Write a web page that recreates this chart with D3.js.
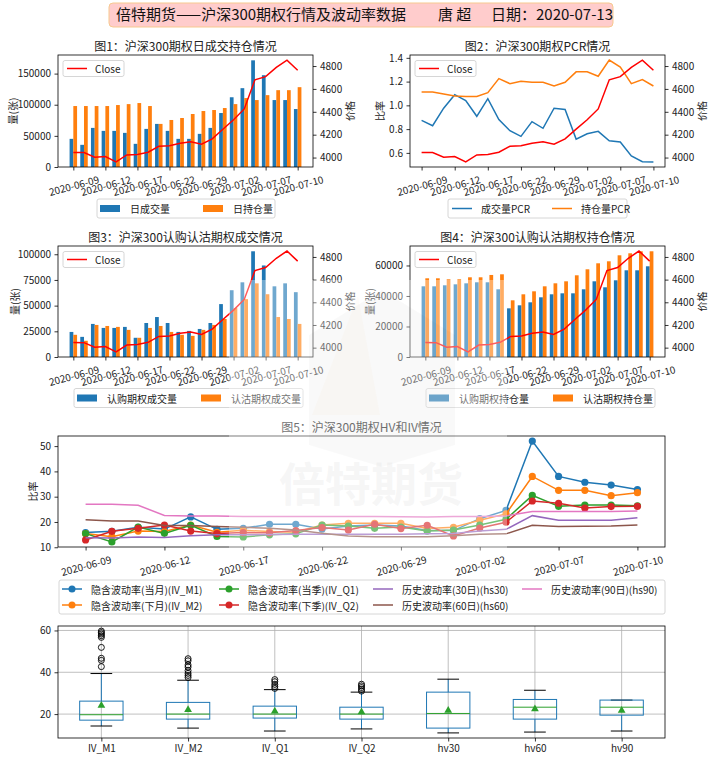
<!DOCTYPE html>
<html>
<head>
<meta charset="utf-8">
<script src="https://cdn.jsdelivr.net/npm/d3@7"></script>
<style>
body { margin: 0; background: #fff; }
</style>
</head>
<body>
<script>
const W = 712, H = 761;
const FONT = '"Noto Sans CJK SC", "Noto Sans", sans-serif';

const dates = ["2020-06-09","2020-06-10","2020-06-11","2020-06-12","2020-06-15","2020-06-16","2020-06-17","2020-06-18","2020-06-19","2020-06-22","2020-06-23","2020-06-24","2020-06-29","2020-06-30","2020-07-01","2020-07-02","2020-07-03","2020-07-06","2020-07-07","2020-07-08","2020-07-09","2020-07-10"];
const tickIdx = [0, 3, 6, 9, 12, 15, 18, 21];
const close = [4045,4044,4003,4009,3962,4023,4027,4047,4099,4103,4126,4138,4116,4164,4248,4331,4425,4680,4707,4788,4852,4763];

// fig 1
const volDay = [45200,35600,62800,58000,58000,54800,37200,61200,69200,58000,45200,45200,53200,62800,86700,112000,126600,171300,147400,107500,107500,93100];
const oiDay = [97900,97900,97900,97900,99500,101000,102700,97900,69200,75500,78700,85100,89900,91500,94700,101000,110700,107500,115400,123400,123400,128200];
// fig 2
const pcrVol = [0.874,0.829,0.976,1.09,1.041,0.908,1.056,0.88,0.787,0.739,0.863,0.807,0.976,0.965,0.716,0.761,0.781,0.702,0.691,0.575,0.526,0.524];
const pcrOi = [1.112,1.112,1.095,1.078,1.075,1.075,1.107,1.225,1.183,1.203,1.194,1.194,1.163,1.194,1.282,1.282,1.245,1.381,1.322,1.183,1.217,1.163];
// fig 3
const callVol = [24400,19600,32200,28300,28300,29300,18700,33100,38900,33100,24400,25400,27300,33100,51500,65000,72700,102900,89100,68800,71700,63100];
const putVol = [21600,15800,31200,30200,29300,26400,18700,28300,30200,24400,21600,20600,26400,31200,37000,47600,56300,71700,61100,38900,37000,32200];
// fig 4
const callOi = [46340,46340,47000,47650,48300,48970,48970,44380,31900,33880,35850,39130,41100,41750,41750,44380,49620,45690,50280,56840,56840,59460];
const putOi = [51590,51590,50930,50930,52250,52250,53780,54210,37160,41100,43060,46340,48310,49620,53560,57490,61430,62740,66670,67990,69300,69300];
// fig 5
const ivM1 = [15.8,16.3,17.9,17.2,22.0,17.1,17.5,19.1,19.1,17.2,18.4,18.8,18.4,16.6,16.6,21.3,24.6,52.0,38.0,35.7,34.6,32.8];
const ivM2 = [15.4,14.2,16.4,16.2,18.8,15.9,16.7,16.2,15.9,18.8,19.5,19.5,19.5,17.4,17.9,20.7,23.2,38.0,32.5,32.5,30.4,31.6];
const ivQ1 = [15.4,12.1,18.0,15.5,18.7,14.3,14.1,14.9,15.3,18.8,18.4,17.5,18.0,16.4,16.8,18.8,21.1,30.5,26.2,26.7,26.7,26.4];
const ivQ2 = [12.9,16.3,17.5,18.8,16.4,15.4,15.8,15.7,16.6,17.8,16.8,19.1,17.4,18.7,14.5,17.6,19.9,28.3,27.4,25.5,26.1,26.2];
const hs30 = [13.8,13.7,14.1,13.9,14.6,14.9,14.9,15.0,15.1,15.1,15.1,15.1,15.1,15.3,15.4,16.4,17.1,22.5,20.7,20.7,20.7,21.7];
const hs60 = [20.9,20.4,20.4,18.6,18.6,18.2,17.9,17.5,16.8,15.5,14.5,14.2,14.2,14.2,14.6,15.1,15.3,18.7,18.2,18.3,18.4,18.8];
const hs90 = [27.0,27.0,26.6,22.6,22.4,22.4,22.2,22.2,22.2,22.2,22.2,22.2,22.1,22.0,22.2,22.2,22.4,24.1,24.1,24.1,24.1,24.3];
// box plot
const boxNames = ["IV_M1","IV_M2","IV_Q1","IV_Q2","hv30","hv60","hv90"];
const boxLo = [14.3,13.3,11.9,12.9,11.0,11.4,11.9];
const boxQ1 = [17.1,17.6,18.1,17.6,13.3,17.6,19.5];
const boxMed = [19.7,20.0,20.0,20.0,20.3,23.3,23.3];
const boxQ3 = [26.2,25.6,23.8,23.3,30.5,27.0,26.7];
const boxHi = [39.4,36.2,31.7,30.5,36.7,31.4,26.7];
const boxMean = [24.1,22.1,21.4,21.0,21.7,22.4,21.7];
const boxOut = [
  [42.7,45.7,46.7,51.9,56.7,57.5,58.3,59.0,59.7],
  [37.5,38.5,39.5,40.8,42.5,43.5,45.5,46.5],
  [32.3,33.2,34.2,35.5,36.5],
  [31.0,31.8,32.7,33.5,34.3],
  [], [], []
];

const BLUE = "#1f77b4", ORANGE = "#ff7f0e", GREEN = "#2ca02c", RED = "#d62728",
      PURPLE = "#9467bd", BROWN = "#8c564b", PINK = "#e377c2";

const p1 = {x0: 58, x1: 313, y0: 55, y1: 167};
const p2 = {x0: 410, x1: 665, y0: 55, y1: 167};
const p3 = {x0: 58, x1: 313, y0: 246, y1: 357};
const p4 = {x0: 410, x1: 665, y0: 246, y1: 357};
const p5 = {x0: 58, x1: 665, y0: 436, y1: 547};
const p6 = {x0: 58, x1: 665, y0: 626, y1: 738};

const svg = d3.select("body").append("svg")
    .attr("width", W)
    .attr("height", H)
    .style("font-family", FONT);

const pad = (vals, zero) => {
  const [a, b] = d3.extent(vals);
  return zero ? [0, b * 1.05] : [a - (b - a) * 0.05, b + (b - a) * 0.05];
};

function frame(p) {
  svg.append("rect")
      .attr("x", p.x0).attr("y", p.y0)
      .attr("width", p.x1 - p.x0).attr("height", p.y1 - p.y0)
      .attr("fill", "none").attr("stroke", "#000").attr("stroke-width", 0.8);
}

function styleAxis(a) {
  a.select(".domain").remove();
  a.selectAll(".tick line").attr("stroke", "#000").attr("stroke-width", 0.8);
  a.selectAll(".tick text").attr("fill", "#222").attr("font-size", 10).attr("font-family", FONT);
}

function text(x, y, t, size, opts = {}) {
  const el = svg.append("text")
      .attr("x", x).attr("y", y)
      .attr("font-size", size)
      .attr("fill", opts.fill || "#222")
      .attr("text-anchor", opts.anchor || "start")
      .attr("dominant-baseline", opts.baseline || "auto")
      .text(t);
  if (opts.rotate) el.attr("transform", `rotate(${opts.rotate},${x},${y})`);
  return el;
}

function title(p, t) {
  text((p.x0 + p.x1) / 2, p.y0 - 4.5, t, 12, {anchor: "middle"});
}

function leftAxis(p, y, ticks, fmt, label, labelX) {
  const a = svg.append("g").attr("transform", `translate(${p.x0},0)`)
      .call(d3.axisLeft(y).tickValues(ticks).tickFormat(fmt).tickSize(3.5).tickPadding(3.5));
  styleAxis(a);
  if (label) text(labelX, (p.y0 + p.y1) / 2, label, 10, {anchor: "middle", baseline: "central", rotate: -90});
}

function dateAxis(p, x) {
  const a = svg.append("g").attr("transform", `translate(0,${p.y1})`)
      .call(d3.axisBottom(x).tickValues(tickIdx).tickFormat(i => dates[i]).tickSize(3.5));
  styleAxis(a);
  a.selectAll(".tick text")
      .attr("y", null).attr("dy", null)
      .attr("dominant-baseline", "central")
      .attr("transform", "translate(0,18) rotate(-15)");
}

function legendBox(x, y, w, h) {
  svg.append("rect")
      .attr("x", x).attr("y", y).attr("width", w).attr("height", h).attr("rx", 2)
      .attr("fill", "#fff").attr("fill-opacity", 0.8)
      .attr("stroke", "#ccc").attr("stroke-width", 0.8);
}

function legendPatch(x, y, color, t) {
  svg.append("rect").attr("x", x).attr("y", y - 3.5).attr("width", 20).attr("height", 7).attr("fill", color);
  text(x + 30, y, t, 10, {baseline: "central"});
}

function legendLine(x, y, color, t, marker) {
  svg.append("line").attr("x1", x).attr("x2", x + 20).attr("y1", y).attr("y2", y)
      .attr("stroke", color).attr("stroke-width", 1.5);
  if (marker) svg.append("circle").attr("cx", x + 10).attr("cy", y).attr("r", 3.5).attr("fill", color);
  text(x + 29, y, t, 10, {baseline: "central"});
}

function closeAxis(p, x) {
  const y = d3.scaleLinear().domain(pad(close)).range([p.y1, p.y0]);
  svg.append("path")
      .datum(close)
      .attr("d", d3.line().x((d, i) => x(i)).y(d => y(d)))
      .attr("fill", "none").attr("stroke", "red").attr("stroke-width", 1.5);
  const a = svg.append("g").attr("transform", `translate(${p.x1},0)`)
      .call(d3.axisRight(y).tickValues([4000, 4200, 4400, 4600, 4800]).tickFormat(d3.format("d")).tickSize(3.5).tickPadding(3.5));
  styleAxis(a);
  text(p.x1 + 36, (p.y0 + p.y1) / 2, "价格", 10, {anchor: "middle", baseline: "central", rotate: -90});
  const lx = p.x0 + 5, ly = p.y0 + 5.5;
  legendBox(lx, ly, 61, 16);
  legendLine(lx + 4, ly + 8, "red", "");
  text(lx + 32, ly + 8, "Close", 10, {baseline: "central"});
}

function barPanel(p, t, left, right, yTicks, labelX) {
  const x = d3.scaleLinear().domain([-1.435, 22.435]).range([p.x0, p.x1]);
  const y = d3.scaleLinear().domain(pad(left.concat(right), true)).range([p.y1, p.y0]);
  const bw = x(0.35) - x(0);
  [[left, -0.35, BLUE], [right, 0, ORANGE]].forEach(([vals, off, color]) => {
    svg.append("g").selectAll("rect")
        .data(vals)
        .join("rect")
        .attr("x", (d, i) => x(i + off))
        .attr("width", bw)
        .attr("y", d => y(d))
        .attr("height", d => y(0) - y(d))
        .attr("fill", color);
  });
  frame(p);
  title(p, t);
  leftAxis(p, y, yTicks, d3.format("d"), "量(张)", labelX);
  dateAxis(p, x);
  closeAxis(p, x);
}

// header
svg.append("rect").attr("x", 109).attr("y", 3).attr("width", 504).attr("height", 24).attr("rx", 4)
    .attr("fill", "#ffcccc").attr("stroke", "#f7c98f").attr("stroke-width", 1);
text(116, 20, "倍特期货——沪深300期权行情及波动率数据", 15, {fill: "#111"});
text(438, 20, "唐 超", 15, {fill: "#111"});
text(491, 20, "日期：2020-07-13", 15, {fill: "#111"});

// fig 1
barPanel(p1, "图1：沪深300期权日成交持仓情况", volDay, oiDay, [0, 50000, 100000, 150000], 12);
legendBox(97, 199, 178, 19);
legendPatch(100, 208.5, BLUE, "日成交量");
legendPatch(203, 208.5, ORANGE, "日持仓量");

// fig 2
{
  const x = d3.scaleLinear().domain([-1.05, 22.05]).range([p2.x0, p2.x1]);
  const y = d3.scaleLinear().domain(pad(pcrVol.concat(pcrOi))).range([p2.y1, p2.y0]);
  [[pcrVol, BLUE], [pcrOi, ORANGE]].forEach(([vals, color]) => {
    svg.append("path")
        .datum(vals)
        .attr("d", d3.line().x((d, i) => x(i)).y(d => y(d)))
        .attr("fill", "none").attr("stroke", color).attr("stroke-width", 1.5);
  });
  frame(p2);
  title(p2, "图2：沪深300期权PCR情况");
  leftAxis(p2, y, [0.6, 0.8, 1.0, 1.2, 1.4], d3.format(".1f"), "比率", 379);
  dateAxis(p2, x);
  closeAxis(p2, x);
  legendBox(448, 199, 179, 19);
  legendLine(452, 208.5, BLUE, "成交量PCR");
  legendLine(552, 208.5, ORANGE, "持仓量PCR");
}

// fig 3
barPanel(p3, "图3：沪深300认购认沽期权成交情况", callVol, putVol, [0, 25000, 50000, 75000, 100000], 14);
legendBox(74, 388.5, 229, 19);
legendPatch(77, 398, BLUE, "认购期权成交量");
legendPatch(201, 398, ORANGE, "认沽期权成交量");

// fig 4
barPanel(p4, "图4：沪深300认购认沽期权持仓情况", callOi, putOi, [0, 20000, 40000, 60000], 369);
legendBox(426, 388.5, 229, 19);
legendPatch(429, 398, BLUE, "认购期权持仓量");
legendPatch(553, 398, ORANGE, "认沽期权持仓量");

// fig 5
const volSeries = [
  {name: "隐含波动率(当月)(IV_M1)", vals: ivM1, color: BLUE, marker: true},
  {name: "隐含波动率(下月)(IV_M2)", vals: ivM2, color: ORANGE, marker: true},
  {name: "隐含波动率(当季)(IV_Q1)", vals: ivQ1, color: GREEN, marker: true},
  {name: "隐含波动率(下季)(IV_Q2)", vals: ivQ2, color: RED, marker: true},
  {name: "历史波动率(30日)(hs30)", vals: hs30, color: PURPLE, marker: false},
  {name: "历史波动率(60日)(hs60)", vals: hs60, color: BROWN, marker: false},
  {name: "历史波动率(90日)(hs90)", vals: hs90, color: PINK, marker: false}
];
{
  const x = d3.scaleLinear().domain([-1.05, 22.05]).range([p5.x0, p5.x1]);
  const y = d3.scaleLinear().domain(pad(volSeries.flatMap(s => s.vals))).range([p5.y1, p5.y0]);
  volSeries.forEach(s => {
    svg.append("path")
        .datum(s.vals)
        .attr("d", d3.line().x((d, i) => x(i)).y(d => y(d)))
        .attr("fill", "none").attr("stroke", s.color).attr("stroke-width", 1.5);
    if (s.marker) {
      svg.append("g").selectAll("circle")
          .data(s.vals)
          .join("circle")
          .attr("cx", (d, i) => x(i))
          .attr("cy", d => y(d))
          .attr("r", 3.6)
          .attr("fill", s.color);
    }
  });
  frame(p5);
  title(p5, "图5：沪深300期权HV和IV情况");
  leftAxis(p5, y, [10, 20, 30, 40, 50], d3.format("d"), "比率", 32);
  dateAxis(p5, x);

  legendBox(59, 580, 606, 34);
  const colX = [62, 219, 373, 522], rowY = [589, 605];
  volSeries.forEach((s, k) => {
    legendLine(colX[Math.floor(k / 2)], rowY[k % 2], s.color, s.name, s.marker);
  });
}

// box plot
{
  const x = d3.scaleLinear().domain([0.5, 7.5]).range([p6.x0, p6.x1]);
  const y = d3.scaleLinear().domain(pad(boxLo.concat(boxHi, boxOut.flat()))).range([p6.y1, p6.y0]);
  const idx = d3.range(boxNames.length);
  const hw = x(0.25) - x(0), cw = x(0.125) - x(0);
  const grid = svg.append("g").attr("stroke", "#b0b0b0").attr("stroke-width", 0.8);
  grid.selectAll(".gx").data(idx).join("line")
      .attr("x1", i => x(i + 1)).attr("x2", i => x(i + 1))
      .attr("y1", p6.y0).attr("y2", p6.y1);
  grid.selectAll(".gy").data([20, 40, 60]).join("line")
      .attr("x1", p6.x0).attr("x2", p6.x1)
      .attr("y1", d => y(d)).attr("y2", d => y(d));

  const g = svg.append("g");
  idx.forEach(i => {
    const cx = x(i + 1);
    g.append("line").attr("x1", cx).attr("x2", cx).attr("y1", y(boxQ1[i])).attr("y2", y(boxLo[i]))
        .attr("stroke", BLUE).attr("stroke-width", 1);
    g.append("line").attr("x1", cx).attr("x2", cx).attr("y1", y(boxQ3[i])).attr("y2", y(boxHi[i]))
        .attr("stroke", BLUE).attr("stroke-width", 1);
    [boxLo[i], boxHi[i]].forEach(v => {
      g.append("line").attr("x1", cx - cw).attr("x2", cx + cw).attr("y1", y(v)).attr("y2", y(v))
          .attr("stroke", "#000").attr("stroke-width", 1);
    });
    g.append("rect").attr("x", cx - hw).attr("width", 2 * hw)
        .attr("y", y(boxQ3[i])).attr("height", y(boxQ1[i]) - y(boxQ3[i]))
        .attr("fill", "none").attr("stroke", BLUE).attr("stroke-width", 1);
    g.append("line").attr("x1", cx - hw).attr("x2", cx + hw).attr("y1", y(boxMed[i])).attr("y2", y(boxMed[i]))
        .attr("stroke", GREEN).attr("stroke-width", 1);
    g.append("path").attr("d", d3.symbol(d3.symbolTriangle, 26)())
        .attr("transform", `translate(${cx},${y(boxMean[i])})`).attr("fill", GREEN);
    g.selectAll(null).data(boxOut[i]).join("circle")
        .attr("cx", cx).attr("cy", d => y(d)).attr("r", 3)
        .attr("fill", "none").attr("stroke", "#000").attr("stroke-width", 0.9);
  });
  frame(p6);
  leftAxis(p6, y, [20, 40, 60], d3.format("d"));
  const a = svg.append("g").attr("transform", `translate(0,${p6.y1})`)
      .call(d3.axisBottom(x).tickValues(idx.map(i => i + 1)).tickFormat(d => boxNames[d - 1]).tickSize(3.5).tickPadding(3.5));
  styleAxis(a);
}

// watermark
const wm = svg.append("g").attr("pointer-events", "none");
wm.append("rect").attr("x", 229).attr("y", 280).attr("width", 278).attr("height", 272)
    .attr("fill", "#fff").attr("fill-opacity", 0.36);
wm.append("polygon").attr("points", "382,290 455,335 455,445 382,467 309,445 309,335")
    .attr("fill", "#000").attr("fill-opacity", 0.022);
wm.append("polygon").attr("points", "358,296 380,415 312,415")
    .attr("fill", "#f0b050").attr("fill-opacity", 0.035);
wm.append("text").attr("x", 371).attr("y", 501).attr("text-anchor", "middle")
    .attr("font-size", 46).attr("font-weight", "bold")
    .attr("fill", "#d0d0d0").attr("fill-opacity", 0.2)
    .text("倍特期货");
</script>
</body>
</html>
